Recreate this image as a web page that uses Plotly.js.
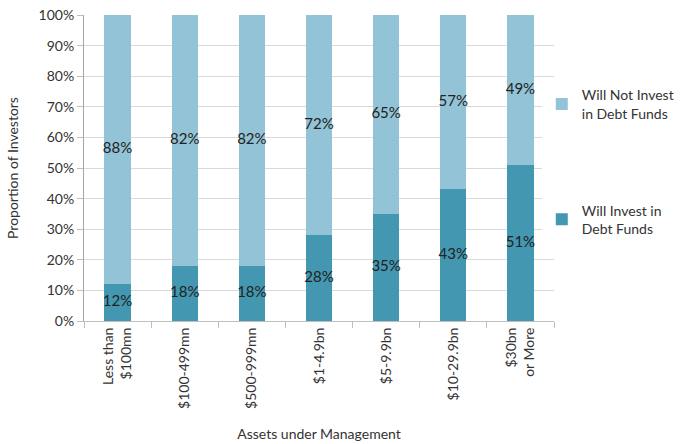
<!DOCTYPE html>
<html>
<head>
<meta charset="utf-8">
<script src="https://cdn.plot.ly/plotly-3.0.1.min.js"></script>
<style>html,body{margin:0;padding:0;background:#fff;}#chart{width:683px;height:444px;}</style>
</head>
<body>
<div id="chart"></div>
<script>
var categories = ["Less than<br>$100mn", "$100-499mn", "$500-999mn", "$1-4.9bn", "$5-9.9bn", "$10-29.9bn", "$30bn<br>or More"];
var willInvest = [12, 18, 18, 28, 35, 43, 51];
var willNotInvest = [88, 82, 82, 72, 65, 57, 49];
var seriesNames = ["Will Invest in<br>Debt Funds", "Will Not Invest<br>in Debt Funds"];
var colors = ["#4397b0", "#93c3d6"];

var font = {family: "Lato, 'Noto Sans', sans-serif", color: "#333", size: 14};

var midInvest = willInvest.map(function(v){ return v / 2; });
var midNot = willNotInvest.map(function(v, i){ return willInvest[i] + v / 2; });

var traces = [
  {type: "bar", name: seriesNames[0], x: categories, y: willInvest, marker: {color: colors[0]}, width: 0.39, legendgroup: "a", legendrank: 2, hoverinfo: "skip"},
  {type: "bar", name: seriesNames[1], x: categories, y: willNotInvest, marker: {color: colors[1]}, width: 0.39, legendgroup: "b", legendrank: 1, hoverinfo: "skip"},
  {type: "scatter", mode: "text", x: categories, y: midInvest, text: willInvest.map(function(v){return v + "%";}), textfont: {family: font.family, size: 15, color: "#222"}, showlegend: false, hoverinfo: "skip"},
  {type: "scatter", mode: "text", x: categories, y: midNot, text: willNotInvest.map(function(v){return v + "%";}), textfont: {family: font.family, size: 15, color: "#222"}, showlegend: false, hoverinfo: "skip"}
];

var layout = {
  width: 683, height: 444,
  margin: {l: 84, r: 129, t: 15, b: 123, autoexpand: false},
  barmode: "stack",
  font: font,
  paper_bgcolor: "#fff", plot_bgcolor: "#fff",
  xaxis: {
    type: "category",
    tickangle: -90,
    tickson: "boundaries",
    ticks: "outside", ticklen: 6, tickcolor: "#bfbfbf",
    showline: true, linecolor: "#bfbfbf",
    showgrid: false,
    automargin: false,
    tickfont: {size: 14},
    title: {text: "Assets under Management", font: {size: 14}, standoff: 21}
  },
  yaxis: {
    range: [0, 100],
    dtick: 10,
    ticksuffix: "%",
    ticks: "outside", ticklen: 6, tickcolor: "#bfbfbf",
    showline: true, linecolor: "#a6a6a6",
    gridcolor: "#d9d9d9",
    zeroline: false,
    automargin: false,
    tickfont: {size: 14},
    title: {text: "Proportion of Investors", font: {size: 14}, standoff: 16}
  },
  legend: {
    x: 0.974, y: 0.79, xanchor: "left", yanchor: "top",
    traceorder: "grouped",
    tracegroupgap: 76,
    font: {size: 14},
    itemwidth: 30
  },
  showlegend: true
};

Plotly.newPlot("chart", traces, layout, {displayModeBar: false, staticPlot: true});
</script>
</body>
</html>
